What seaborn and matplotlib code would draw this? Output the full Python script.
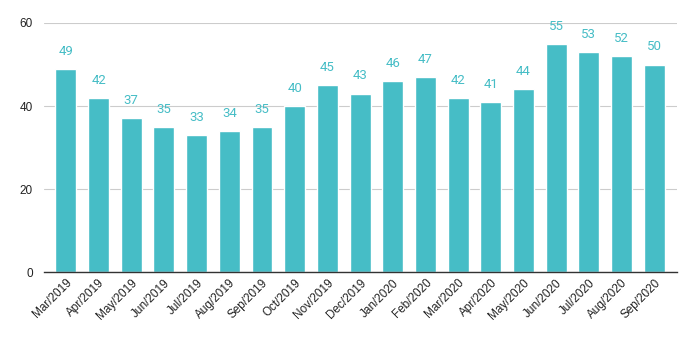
import matplotlib
matplotlib.use("Agg")
import matplotlib.pyplot as plt
import seaborn as sns
import pandas as pd

months = ["Mar/2019", "Apr/2019", "May/2019", "Jun/2019", "Jul/2019", "Aug/2019",
          "Sep/2019", "Oct/2019", "Nov/2019", "Dec/2019", "Jan/2020", "Feb/2020",
          "Mar/2020", "Apr/2020", "May/2020", "Jun/2020", "Jul/2020", "Aug/2020", "Sep/2020"]
values = [49, 42, 37, 35, 33, 34, 35, 40, 45, 43, 46, 47, 42, 41, 44, 55, 53, 52, 50]
yticks = [0, 20, 40, 60]

color = "#46BDC6"
df = pd.DataFrame({"month": months, "value": values})

sns.set_style("white")
plt.rcParams['font.family'] = ['Liberation Sans', 'DejaVu Sans']

fig = plt.figure(figsize=(6.93, 3.38), dpi=100)
ax = fig.add_axes([0.0635, 0.195, 0.9135, 0.737])
sns.barplot(data=df, x="month", y="value", color=color, saturation=1, width=0.64, ax=ax, zorder=3)

for i, v in enumerate(values):
    ax.annotate(str(v), (i, v), xytext=(0, 8), textcoords="offset points",
                ha="center", va="bottom", color=color, fontsize=9.5, family=['Roboto', 'DejaVu Sans'])

ax.set_ylim(0, 60)
ax.set_yticks(yticks)
ax.set_xlim(-0.67, 18.7)
ax.grid(axis="y", color="#cccccc", linewidth=0.8, zorder=0)
ax.set_axisbelow(True)
for s in ["left", "right", "top"]:
    ax.spines[s].set_visible(False)
ax.spines["bottom"].set_color("#333333")
ax.spines["bottom"].set_linewidth(1)
ax.spines["bottom"].set_zorder(5)
ax.set_xlabel("")
ax.set_ylabel("")
ax.tick_params(axis="both", length=0, labelsize=8.5, colors="#222222")
ax.tick_params(axis="y", pad=8)
plt.setp(ax.get_xticklabels(), rotation=45, ha="right", rotation_mode="anchor")
fig.savefig("out.png", dpi=100)
